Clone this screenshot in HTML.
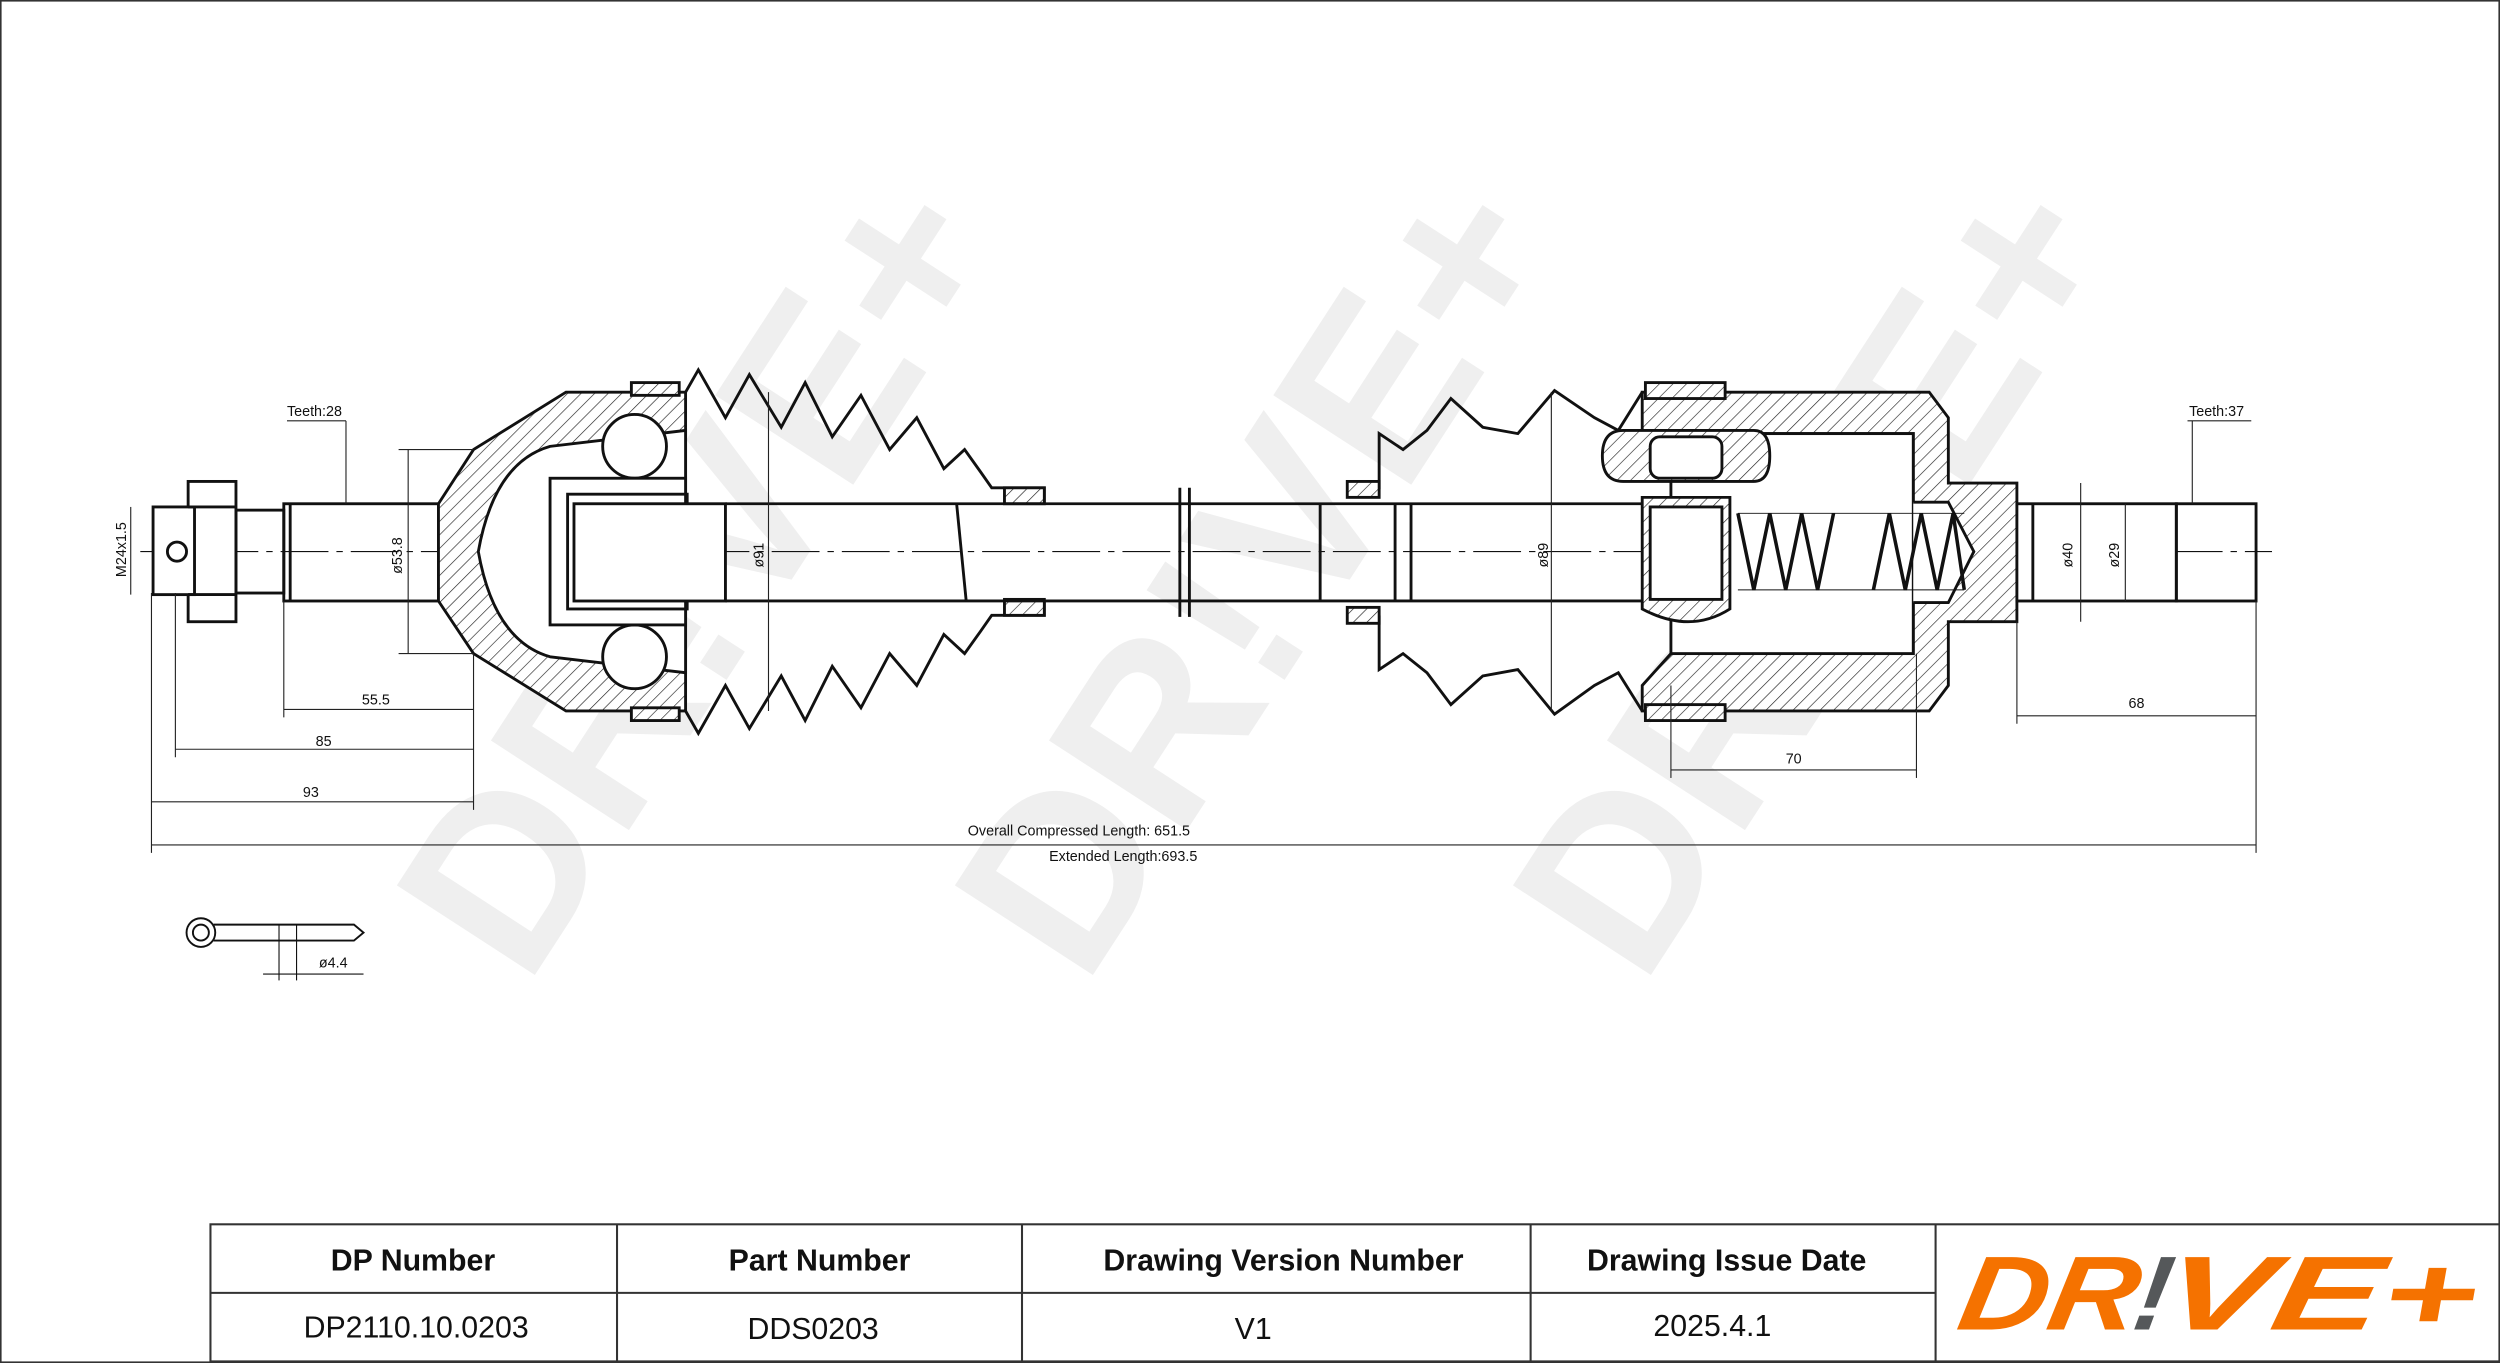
<!DOCTYPE html>
<html><head><meta charset="utf-8"><style>
html,body{margin:0;padding:0;background:#fff}
svg{display:block}
text{font-family:"Liberation Sans",sans-serif}
</style></head><body>
<svg width="2500" height="1363" viewBox="0 0 1568 855" preserveAspectRatio="none" xmlns="http://www.w3.org/2000/svg">
<defs>
<pattern id="h" width="6" height="6" patternUnits="userSpaceOnUse" patternTransform="rotate(45)">
<rect width="6" height="6" fill="#fff"/><line x1="0" y1="0" x2="0" y2="6" stroke="#222" stroke-width="0.8"/>
</pattern>
</defs>
<rect x="0.5" y="0.5" width="1567" height="854" fill="#fff" stroke="#333" stroke-width="1"/>
<g fill="#efefef" font-weight="bold" font-size="150" font-family="Liberation Sans,sans-serif">
<text transform="translate(330,620) rotate(-57)">DR!VE+</text>
<text transform="translate(680,620) rotate(-57)">DR!VE+</text>
<text transform="translate(1030,620) rotate(-57)">DR!VE+</text>
</g>
<g stroke="#111" stroke-width="1.8" fill="none">
<line x1="88" y1="346" x2="1425" y2="346" stroke-width="0.7" stroke-dasharray="30,5,4,5"/>
<rect x="118" y="302" width="30" height="88" fill="#fff"/>
<rect x="96" y="318" width="26" height="55" fill="#fff"/>
<line x1="118" y1="318" x2="148" y2="318"/><line x1="118" y1="373" x2="148" y2="373"/>
<circle cx="111" cy="346" r="6"/>
<rect x="148" y="320" width="30" height="52"/>
<rect x="178" y="316" width="97" height="61"/>
<line x1="182" y1="316" x2="182" y2="377"/>
<path d="M275,316 L297,282 L355,246 L430,246 L430,446 L355,446 L297,410 L275,377 Z" fill="url(#h)"/>
<path d="M300,346 Q310,290 345,280 L430,270 L430,422 L345,412 Q310,402 300,346 Z" fill="#fff"/>
<circle cx="398" cy="280" r="20" fill="#fff"/><circle cx="398" cy="412" r="20" fill="#fff"/>
<rect x="345" y="300" width="85" height="92" fill="#fff"/>
<rect x="356" y="310" width="75" height="72"/>
<rect x="360" y="316" width="95" height="61" fill="#fff"/>
<rect x="396" y="240" width="30" height="8" fill="url(#h)"/><rect x="396" y="444" width="30" height="8" fill="url(#h)"/>
<path d="M430,246 L438,232 L455,262 L470,235 L490,268 L505,240 L522,274 L540,248 L558,282 L575,262 L592,294 L605,282 L615,296 L622,306 L655,306 L655,316"/>
<path d="M430,446 L438,460 L455,430 L470,457 L490,424 L505,452 L522,418 L540,444 L558,410 L575,430 L592,398 L605,410 L615,396 L622,386 L655,386 L655,377"/>
<rect x="630" y="306" width="25" height="10" fill="url(#h)"/><rect x="630" y="376" width="25" height="10" fill="url(#h)"/>
<path d="M455,316 L1030,316 M455,377 L1030,377"/>
<line x1="600" y1="316" x2="606" y2="377"/><line x1="740" y1="306" x2="740" y2="387"/><line x1="746" y1="306" x2="746" y2="387"/>
<line x1="828" y1="316" x2="828" y2="377"/><line x1="875" y1="316" x2="875" y2="377"/><line x1="885" y1="316" x2="885" y2="377"/>
<path d="M845,306 L865,306 L865,272 L880,282 L895,270 L910,250 L930,268 L952,272 L975,245 L1000,262 L1015,270 L1030,246"/>
<path d="M845,387 L865,387 L865,420 L880,410 L895,422 L910,442 L930,424 L952,420 L975,448 L1000,430 L1015,422 L1030,446"/>
<rect x="845" y="302" width="20" height="10" fill="url(#h)"/><rect x="845" y="381" width="20" height="10" fill="url(#h)"/>
<path d="M1030,246 L1210,246 L1222,262 L1222,303 L1265,303 L1265,390 L1222,390 L1222,430 L1210,446 L1030,446 L1030,430 L1048,410 L1200,410 L1200,272 L1085,272 L1030,272 Z" fill="url(#h)"/>
<rect x="1048" y="272" width="152" height="138" fill="#fff"/>
<path d="M1200,315 L1222,315 L1238,346 L1222,378 L1200,378" fill="#fff"/>
<rect x="1032" y="240" width="50" height="10" fill="url(#h)"/><rect x="1032" y="442" width="50" height="10" fill="url(#h)"/>
<path d="M1005,286 Q1005,270 1018,270 L1100,270 Q1110,270 1110,286 Q1110,302 1100,302 L1018,302 Q1005,302 1005,286 Z" fill="url(#h)"/>
<rect x="1035" y="274" width="45" height="26" rx="6" fill="#fff"/>
<path d="M1030,312 L1085,312 L1085,382 Q1060,398 1030,382 Z" fill="url(#h)"/>
<rect x="1035" y="318" width="45" height="58" fill="#fff"/>
<path d="M1090,322 L1100,370 L1110,322 L1120,370 L1130,322 L1140,370 L1150,322 M1175,370 L1185,322 L1195,370 L1205,322 L1215,370 L1225,322 L1232,370" stroke-width="2.2"/>
<line x1="1090" y1="322" x2="1232" y2="322" stroke-width="0.6"/><line x1="1090" y1="370" x2="1232" y2="370" stroke-width="0.6"/>
<rect x="1265" y="316" width="100" height="61" fill="#fff"/>
<rect x="1365" y="316" width="50" height="61"/>
<line x1="1275" y1="316" x2="1275" y2="377"/>
</g>
<g stroke="#222" stroke-width="0.7" fill="none">
<line x1="95" y1="372" x2="95" y2="535"/><line x1="110" y1="372" x2="110" y2="475"/><line x1="178" y1="377" x2="178" y2="450"/>
<line x1="297" y1="410" x2="297" y2="508"/><line x1="1415" y1="377" x2="1415" y2="535"/>
<line x1="178" y1="445" x2="297" y2="445"/><line x1="110" y1="470" x2="297" y2="470"/><line x1="95" y1="503" x2="297" y2="503"/>
<line x1="95" y1="530" x2="1415" y2="530"/>
<line x1="1048" y1="430" x2="1048" y2="488"/><line x1="1202" y1="410" x2="1202" y2="488"/><line x1="1048" y1="483" x2="1202" y2="483"/>
<line x1="1265" y1="390" x2="1265" y2="454"/><line x1="1265" y1="449" x2="1415" y2="449"/>
<line x1="256" y1="282" x2="256" y2="410"/><line x1="250" y1="282" x2="297" y2="282"/><line x1="250" y1="410" x2="297" y2="410"/>
<line x1="482" y1="246" x2="482" y2="446"/><line x1="973" y1="246" x2="973" y2="446"/>
<line x1="1305" y1="303" x2="1305" y2="390"/><line x1="1333" y1="316" x2="1333" y2="377"/>
<line x1="82" y1="318" x2="82" y2="373"/>
<line x1="180" y1="264" x2="217" y2="264"/><line x1="217" y1="264" x2="217" y2="316"/>
<line x1="1372" y1="264" x2="1412" y2="264"/><line x1="1375" y1="264" x2="1375" y2="316"/>
</g>
<g font-size="9" fill="#111" font-family="Liberation Sans,sans-serif">
<text x="227" y="442">55.5</text><text x="198" y="468">85</text><text x="190" y="500">93</text>
<text x="607" y="524">Overall  Compressed  Length: 651.5</text>
<text x="658" y="540">Extended  Length:693.5</text>
<text x="1120" y="479">70</text><text x="1335" y="444">68</text>
<text x="180" y="261">Teeth:28</text><text x="1373" y="261">Teeth:37</text>
<text transform="translate(252,360) rotate(-90)">ø53.8</text>
<text transform="translate(479,356) rotate(-90)">ø91</text>
<text transform="translate(971,356) rotate(-90)">ø89</text>
<text transform="translate(1300,356) rotate(-90)">ø40</text>
<text transform="translate(1329,356) rotate(-90)">ø29</text>
<text transform="translate(79,362) rotate(-90)">M24x1.5</text>
<text x="200" y="607">ø4.4</text>
</g>
<g stroke="#111" stroke-width="1.2" fill="none">
<circle cx="126" cy="585" r="9"/><circle cx="126" cy="585" r="5"/>
<path d="M134,580 L222,580 L228,585 L222,590 L134,590"/>
<line x1="175" y1="580" x2="175" y2="615" stroke-width="0.7"/><line x1="186" y1="580" x2="186" y2="615" stroke-width="0.7"/>
<line x1="165" y1="611" x2="228" y2="611" stroke-width="0.7"/>
</g>
<g stroke="#333" stroke-width="1.3" fill="none">
<rect x="132" y="768" width="1436" height="86"/>
<line x1="132" y1="811" x2="1214" y2="811"/>
<line x1="387" y1="768" x2="387" y2="854"/><line x1="641" y1="768" x2="641" y2="854"/>
<line x1="960" y1="768" x2="960" y2="854"/><line x1="1214" y1="768" x2="1214" y2="854"/>
</g>
<g font-size="19" fill="#111" text-anchor="middle" font-family="Liberation Sans,sans-serif">
<g font-weight="bold">
<text x="259" y="797">DP Number</text><text x="514" y="797">Part Number</text>
<text x="805" y="797">Drawing Version Number</text><text x="1083" y="797">Drawing Issue Date</text>
</g>
<text x="261" y="839">DP2110.10.0203</text><text x="510" y="840">DDS0203</text>
<text x="786" y="840">V1</text><text x="1074" y="838">2025.4.1</text>
</g>
<g font-weight="bold" font-style="italic" font-size="66" font-family="Liberation Sans,sans-serif" transform="translate(1226,834) skewX(-10)">
<text x="0" y="0" fill="#f57200" textLength="112" lengthAdjust="spacingAndGlyphs">DR</text>
<text x="110" y="0" fill="#55585a">!</text>
<text x="128" y="0" fill="#f57200" textLength="196" lengthAdjust="spacingAndGlyphs">VE+</text>
</g>
</svg>
</body></html>
